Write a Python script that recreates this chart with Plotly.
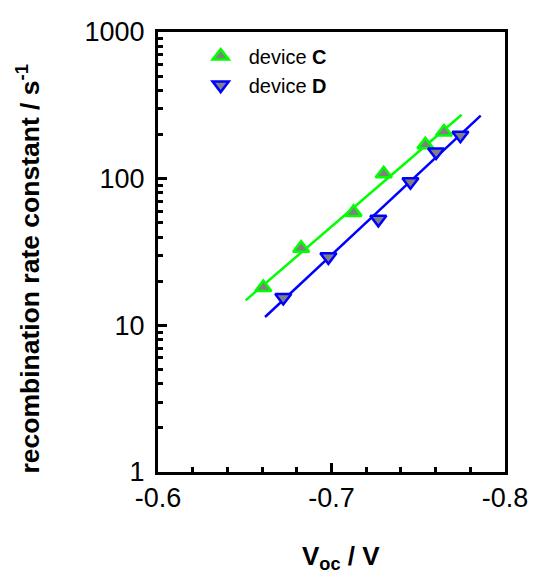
import plotly.graph_objects as go

# data
voc_c = [-0.6607, -0.6825, -0.7127, -0.7301, -0.7541, -0.7648]
k_c = [18.1, 33.6, 58.9, 108, 170, 208]
voc_d = [-0.6722, -0.6982, -0.7270, -0.7455, -0.7603, -0.7743]
k_d = [15.5, 29.3, 52.8, 95.4, 152, 198]
fit_c_x = [-0.6505, -0.7750]
fit_c_y = [14.8, 273]
fit_d_x = [-0.6617, -0.7860]
fit_d_y = [11.4, 269]
x_ticks = [-0.6, -0.7, -0.8]
x_ticktext = ["-0.6", "-0.7", "-0.8"]
y_ticks = [1, 10, 100, 1000]
y_ticktext = ["1", "10", "100", "1000"]

GREEN = "#00ff00"
BLUE = "#0000ff"
GRAY = "#808080"
FONT = "Arial, Liberation Sans, sans-serif"

fig = go.Figure()
fig.add_trace(go.Scatter(x=fit_c_x, y=fit_c_y, mode="lines",
                         line=dict(color=GREEN, width=2.5), showlegend=False))
fig.add_trace(go.Scatter(x=fit_d_x, y=fit_d_y, mode="lines",
                         line=dict(color=BLUE, width=2.5), showlegend=False))
fig.add_trace(go.Scatter(x=voc_c, y=k_c, mode="markers", name="device <b>C</b>",
                         legendgroup="c",
                         marker=dict(symbol="triangle-up", size=14, color=GRAY,
                                     line=dict(color=GREEN, width=2.5))))
fig.add_trace(go.Scatter(x=voc_d, y=k_d, mode="markers", name="device <b>D</b>",
                         legendgroup="d",
                         marker=dict(symbol="triangle-down", size=14, color=GRAY,
                                     line=dict(color=BLUE, width=2.5))))

fig.update_layout(
    width=540, height=580,
    margin=dict(l=158, r=26.5, t=31.5, b=107.5),
    paper_bgcolor="white", plot_bgcolor="white",
    font=dict(family=FONT, color="black"),
    showlegend=True,
    legend=dict(x=0.10, y=0.9895, xanchor="left", yanchor="top",
                bgcolor="rgba(0,0,0,0)", font=dict(size=20, family=FONT),
                tracegroupgap=0, traceorder="grouped", itemwidth=46),
    annotations=[
        dict(text="<b>recombination rate constant / s<sup>-1</sup></b>",
             xref="paper", yref="paper", x=-0.375, y=0.462,
             xanchor="center", yanchor="middle", textangle=-90, showarrow=False,
             font=dict(size=26.5, family=FONT)),
        dict(text="<b>V<sub>oc</sub> / V</b>",
             xref="paper", yref="paper", x=0.527, y=-0.194,
             xanchor="center", yanchor="middle", showarrow=False,
             font=dict(size=26, family=FONT)),
    ],
)
fig.update_xaxes(
    range=[-0.6, -0.8], tickvals=x_ticks, ticktext=x_ticktext,
    showgrid=False, zeroline=False,
    showline=True, linecolor="black", linewidth=3, mirror=True,
    ticks="inside", ticklen=9, tickwidth=2.5, tickcolor="black",
    minor=dict(ticks="inside", dtick=0.02, ticklen=5, tickwidth=2.5, tickcolor="black"),
    tickfont=dict(size=27, family=FONT),
)
fig.update_yaxes(
    type="log", range=[0, 3], tickvals=y_ticks, ticktext=y_ticktext,
    showgrid=False, zeroline=False,
    showline=True, linecolor="black", linewidth=3, mirror=True,
    ticks="inside", ticklen=9, tickwidth=2.5, tickcolor="black",
    minor=dict(ticks="inside", dtick="D1", ticklen=5, tickwidth=2.5, tickcolor="black"),
    tickfont=dict(size=27, family=FONT), ticklabelstandoff=5,
)

fig.write_html("out.html")
